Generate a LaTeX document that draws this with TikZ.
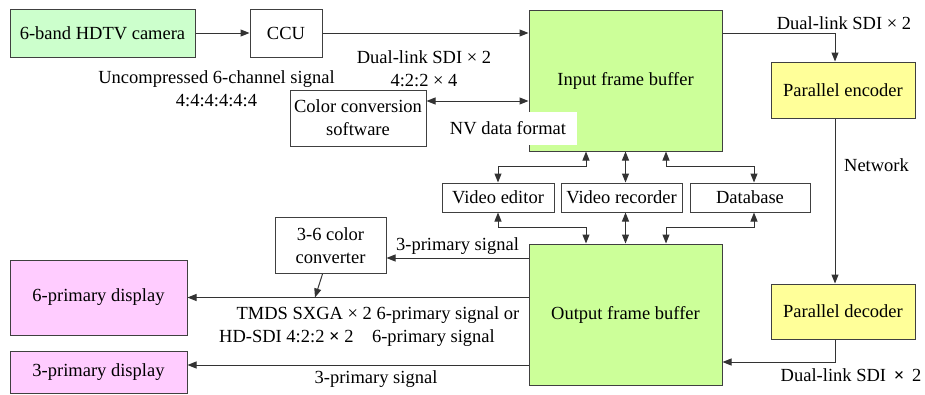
\documentclass[tikz,border=0pt]{standalone}
\usepackage{fontspec}
\setmainfont{Liberation Serif}
\usetikzlibrary{arrows.meta}

\definecolor{camGreen}{HTML}{CCFFCC}
\definecolor{bufGreen}{HTML}{CCFF99}
\definecolor{codecYellow}{HTML}{FFFF99}
\definecolor{dispPink}{HTML}{FFCCFF}

\begin{document}
\begin{tikzpicture}[x=1pt, y=-1pt,
	font=\fontsize{18.5}{23}\selectfont,
	>={Triangle[length=9pt,width=7pt]},
	blockBox/.style={rectangle, draw=black!75, line width=1pt, inner sep=0pt, align=center},
	lbl/.style={inner sep=0pt, align=center},
	wire/.style={draw=black!80, line width=1pt}]
	\useasboundingbox (0,0) rectangle (925,394);

	% capture side
	\node[blockBox, fill=camGreen, minimum width=185, minimum height=48](camBox) at (102.5,33){6-band HDTV camera};
	\node[blockBox, minimum width=72, minimum height=48](ccuBox) at (286,33){CCU};
	\node[blockBox, minimum width=136, minimum height=56](convSwBox) at (358,118){Color conversion\\software};

	% frame buffers
	\node[blockBox, fill=bufGreen, minimum width=193, minimum height=141](inBufBox) at (625.5,80.5){Input frame buffer};
	\node[blockBox, fill=bufGreen, minimum width=193, minimum height=141](outBufBox) at (625.5,314.5){Output frame buffer};

	\node[blockBox, minimum width=112, minimum height=29](editBox) at (498,197.5){Video editor};
	\node[blockBox, minimum width=121, minimum height=29](recBox) at (621.5,197.5){Video recorder};
	\node[blockBox, minimum width=120, minimum height=29](dbBox) at (750,197.5){Database};

	% codec
	\node[blockBox, fill=codecYellow, minimum width=144, minimum height=56](encBox) at (843,90){Parallel encoder};
	\node[blockBox, fill=codecYellow, minimum width=144, minimum height=55](decBox) at (843,311.5){Parallel decoder};

	% display side
	\node[blockBox, minimum width=111, minimum height=56](convBox) at (330.5,245.5){3-6 color\\converter};
	\node[blockBox, fill=dispPink, minimum width=177, minimum height=75](sixDispBox) at (98.5,297.5){6-primary display};
	\node[blockBox, fill=dispPink, minimum width=177, minimum height=42](threeDispBox) at (98.5,372){3-primary display};
	\coordinate (sixJoin) at (315,297.5);

	% links
	\draw[wire, ->] (camBox) -- (ccuBox);
	\draw[wire, ->] (ccuBox.east) -- ([yshift=47.5pt]inBufBox.west);
	\draw[wire, <->] ([yshift=17pt]convSwBox.east) -- ([yshift=-20.5pt]inBufBox.west);
	\draw[wire, ->] ([yshift=47.5pt]inBufBox.east) -| ([xshift=-8pt]encBox.north);
	\draw[wire, ->] ([xshift=-8pt]encBox.south) -- ([xshift=-8pt]decBox.north);
	\draw[wire, ->] ([xshift=-8pt]decBox.south) |- ([yshift=-47.5pt]outBufBox.east);

	\draw[wire, <->] ([xshift=-39.5pt]inBufBox.south) -- ++(0,15) -| (editBox.north);
	\draw[wire, <->] (inBufBox.south) -- (recBox.north -| inBufBox.south);
	\draw[wire, <->] ([xshift=40.5pt]inBufBox.south) -- ++(0,15) -| ([xshift=4pt]dbBox.north);
	\draw[wire, <->] (editBox.south) -- ++(0,15) -| ([xshift=-39.5pt]outBufBox.north);
	\draw[wire, <->] (recBox.south -| outBufBox.north) -- (outBufBox.north);
	\draw[wire, <->] ([xshift=4pt]dbBox.south) -- ++(0,15) -| ([xshift=40.5pt]outBufBox.north);

	\draw[wire, ->] ([yshift=56.5pt]outBufBox.west) -- ([yshift=-12.5pt]convBox.east);
	\draw[wire, ->] ([xshift=-8pt]convBox.south) -- (sixJoin);
	\draw[wire, ->] ([yshift=17pt]outBufBox.west) -- (sixDispBox.east);
	\draw[wire, ->] ([yshift=-50.5pt]outBufBox.west) -- ([yshift=7pt]threeDispBox.east);

	% signal labels
	\node[lbl](rawLbl) at (216.5,88.5){Uncompressed 6-channel signal\\4:4:4:4:4:4};
	\node[lbl](sdiInLbl) at (424,68.5){Dual-link SDI × 2\\4:2:2 × 4};
	\node[lbl, fill=white, inner xsep=11pt, inner ysep=10pt](nvLbl) at (508,128.5){NV data format};
	\node[lbl](sdiEncLbl) at (844,23){Dual-link SDI × 2};
	\node[lbl](netLbl) at (876.5,165){Network};
	\node[lbl](sdiDecLbl) at (851,375){Dual-link SDI~\,\textbf{×}~\,2};
	\node[lbl](priLbl) at (457.5,246){3-primary signal};
	\node[lbl](tmdsLbl) at (378,315){TMDS SXGA × 2 6-primary signal or};
	\node[lbl](hdLbl) at (357,338){HD-SDI 4:2:2 \textbf{×} 2\quad6-primary signal};
	\node[lbl](threeLbl) at (376,379){3-primary signal};
\end{tikzpicture}
\end{document}
